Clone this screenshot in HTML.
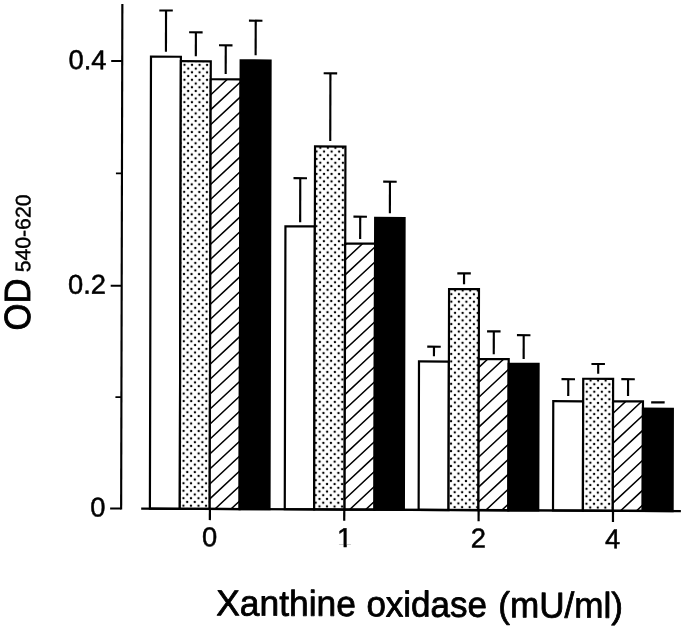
<!DOCTYPE html>
<html lang="en"><head><meta charset="utf-8"><title>Figure</title>
<style>html,body{margin:0;padding:0;background:#fff}svg{display:block}</style></head>
<body>
<svg width="685" height="629" viewBox="0 0 685 629">
<defs>
<pattern id="dots0" patternUnits="userSpaceOnUse" x="180.173" y="62.058" width="7.53" height="7.472"><rect width="7.53" height="7.472" fill="#fff"/><circle cx="3.765" cy="3.736" r="1.2" fill="#000"/><circle cx="0" cy="0" r="1.2" fill="#000"/><circle cx="0" cy="7.472" r="1.2" fill="#000"/><circle cx="7.53" cy="0" r="1.2" fill="#000"/><circle cx="7.53" cy="7.472" r="1.2" fill="#000"/></pattern>
<pattern id="dots1" patternUnits="userSpaceOnUse" x="319.979" y="148.115" width="7.53" height="7.472"><rect width="7.53" height="7.472" fill="#fff"/><circle cx="3.765" cy="3.736" r="1.2" fill="#000"/><circle cx="0" cy="0" r="1.2" fill="#000"/><circle cx="0" cy="7.472" r="1.2" fill="#000"/><circle cx="7.53" cy="0" r="1.2" fill="#000"/><circle cx="7.53" cy="7.472" r="1.2" fill="#000"/></pattern>
<pattern id="dots2" patternUnits="userSpaceOnUse" x="455.120" y="290.193" width="7.53" height="7.472"><rect width="7.53" height="7.472" fill="#fff"/><circle cx="3.765" cy="3.736" r="1.2" fill="#000"/><circle cx="0" cy="0" r="1.2" fill="#000"/><circle cx="0" cy="7.472" r="1.2" fill="#000"/><circle cx="7.53" cy="0" r="1.2" fill="#000"/><circle cx="7.53" cy="7.472" r="1.2" fill="#000"/></pattern>
<pattern id="dots3" patternUnits="userSpaceOnUse" x="583.235" y="379.604" width="7.53" height="7.472"><rect width="7.53" height="7.472" fill="#fff"/><circle cx="3.765" cy="3.736" r="1.2" fill="#000"/><circle cx="0" cy="0" r="1.2" fill="#000"/><circle cx="0" cy="7.472" r="1.2" fill="#000"/><circle cx="7.53" cy="0" r="1.2" fill="#000"/><circle cx="7.53" cy="7.472" r="1.2" fill="#000"/></pattern>
</defs>
<rect width="685" height="629" fill="#fff"/>
<g transform="matrix(1 0.0046 -0.0024 1 0.7200 -1.8400)" stroke="#000" stroke-width="2.2" fill="none" stroke-linecap="butt">
<rect x="150.40" y="57.78" width="29.90" height="452.02" fill="#fff"/>
<path d="M158.60 11.58H172.10" stroke-width="2.15"/>
<path d="M165.35 11.58V52.78" stroke-width="2.15"/>
<rect x="180.30" y="62.24" width="29.90" height="447.56" fill="url(#dots0)"/>
<path d="M188.50 33.24H202.00" stroke-width="2.15"/>
<path d="M195.25 33.24V57.14" stroke-width="2.15"/>
<rect x="210.20" y="80.11" width="29.90" height="429.69" fill="#fff" stroke="none"/>
<clipPath id="hc0"><rect x="210.20" y="80.11" width="29.90" height="429.69"/></clipPath>
<path d="M208.20 52.63L242.10 20.76M208.20 67.60L242.10 35.73M208.20 82.57L242.10 50.70M208.20 97.54L242.10 65.67M208.20 112.51L242.10 80.64M208.20 127.48L242.10 95.61M208.20 142.45L242.10 110.58M208.20 157.42L242.10 125.55M208.20 172.39L242.10 140.52M208.20 187.36L242.10 155.49M208.20 202.33L242.10 170.46M208.20 217.30L242.10 185.43M208.20 232.27L242.10 200.40M208.20 247.24L242.10 215.37M208.20 262.21L242.10 230.34M208.20 277.18L242.10 245.31M208.20 292.15L242.10 260.28M208.20 307.12L242.10 275.25M208.20 322.09L242.10 290.22M208.20 337.06L242.10 305.19M208.20 352.03L242.10 320.16M208.20 367.00L242.10 335.13M208.20 381.97L242.10 350.10M208.20 396.94L242.10 365.07M208.20 411.91L242.10 380.04M208.20 426.88L242.10 395.01M208.20 441.85L242.10 409.98M208.20 456.82L242.10 424.95M208.20 471.79L242.10 439.92M208.20 486.76L242.10 454.89M208.20 501.73L242.10 469.86M208.20 516.70L242.10 484.83M208.20 531.67L242.10 499.80M208.20 546.64L242.10 514.77M208.20 561.61L242.10 529.74" clip-path="url(#hc0)" stroke-width="1.5"/>
<rect x="210.20" y="80.11" width="29.90" height="429.69"/>
<path d="M218.40 46.11H231.90" stroke-width="2.15"/>
<path d="M225.15 46.11V74.71" stroke-width="2.15"/>
<rect x="240.10" y="61.07" width="29.90" height="448.73" fill="#000"/>
<path d="M248.30 21.37H261.80" stroke-width="2.15"/>
<path d="M255.05 21.37V55.97" stroke-width="2.15"/>
<rect x="285.27" y="226.86" width="29.40" height="282.94" fill="#fff"/>
<path d="M293.22 178.66H306.72" stroke-width="2.15"/>
<path d="M299.97 178.66V222.66" stroke-width="2.15"/>
<rect x="314.67" y="146.82" width="30.40" height="362.98" fill="url(#dots1)"/>
<path d="M323.12 73.63H336.62" stroke-width="2.15"/>
<path d="M329.87 73.63V141.32" stroke-width="2.15"/>
<rect x="345.07" y="243.78" width="29.90" height="266.02" fill="#fff" stroke="none"/>
<clipPath id="hc1"><rect x="345.07" y="243.78" width="29.90" height="266.02"/></clipPath>
<path d="M343.07 217.09L376.97 185.23M343.07 232.06L376.97 200.20M343.07 247.03L376.97 215.17M343.07 262.00L376.97 230.14M343.07 276.97L376.97 245.11M343.07 291.94L376.97 260.08M343.07 306.91L376.97 275.05M343.07 321.88L376.97 290.02M343.07 336.85L376.97 304.99M343.07 351.82L376.97 319.96M343.07 366.79L376.97 334.93M343.07 381.76L376.97 349.90M343.07 396.73L376.97 364.87M343.07 411.70L376.97 379.84M343.07 426.67L376.97 394.81M343.07 441.64L376.97 409.78M343.07 456.61L376.97 424.75M343.07 471.58L376.97 439.72M343.07 486.55L376.97 454.69M343.07 501.52L376.97 469.66M343.07 516.49L376.97 484.63M343.07 531.46L376.97 499.60M343.07 546.43L376.97 514.57M343.07 561.40L376.97 529.54" clip-path="url(#hc1)" stroke-width="1.5"/>
<rect x="345.07" y="243.78" width="29.90" height="266.02"/>
<path d="M353.27 216.88H366.77" stroke-width="2.15"/>
<path d="M360.02 216.88V239.18" stroke-width="2.15"/>
<rect x="374.97" y="218.05" width="29.40" height="291.75" fill="#000"/>
<path d="M382.92 181.75H396.42" stroke-width="2.15"/>
<path d="M389.67 181.75V213.25" stroke-width="2.15"/>
<rect x="419.14" y="361.34" width="29.90" height="148.46" fill="#fff"/>
<path d="M427.34 346.54H440.84" stroke-width="2.15"/>
<path d="M434.09 346.54V356.14" stroke-width="2.15"/>
<rect x="449.04" y="288.81" width="29.90" height="220.99" fill="url(#dots2)"/>
<path d="M457.24 273.11H470.74" stroke-width="2.15"/>
<path d="M463.99 273.11V284.01" stroke-width="2.15"/>
<rect x="478.94" y="358.67" width="29.90" height="151.13" fill="#fff" stroke="none"/>
<clipPath id="hc2"><rect x="478.94" y="358.67" width="29.90" height="151.13"/></clipPath>
<path d="M476.94 338.98L510.84 307.11M476.94 353.95L510.84 322.08M476.94 368.92L510.84 337.05M476.94 383.89L510.84 352.02M476.94 398.86L510.84 366.99M476.94 413.83L510.84 381.96M476.94 428.80L510.84 396.93M476.94 443.77L510.84 411.90M476.94 458.74L510.84 426.87M476.94 473.71L510.84 441.84M476.94 488.68L510.84 456.81M476.94 503.65L510.84 471.78M476.94 518.62L510.84 486.75M476.94 533.59L510.84 501.72M476.94 548.56L510.84 516.69M476.94 563.53L510.84 531.66" clip-path="url(#hc2)" stroke-width="1.5"/>
<rect x="478.94" y="358.67" width="29.90" height="151.13"/>
<path d="M487.14 330.97H500.64" stroke-width="2.15"/>
<path d="M493.89 330.97V353.77" stroke-width="2.15"/>
<rect x="508.84" y="363.23" width="29.90" height="146.57" fill="#000"/>
<path d="M517.04 334.63H530.54" stroke-width="2.15"/>
<path d="M523.79 334.63V358.33" stroke-width="2.15"/>
<rect x="553.51" y="400.52" width="29.90" height="109.28" fill="#fff"/>
<path d="M561.71 378.42H575.21" stroke-width="2.15"/>
<path d="M568.46 378.42V395.32" stroke-width="2.15"/>
<rect x="583.41" y="377.89" width="29.90" height="131.91" fill="url(#dots3)"/>
<path d="M591.61 363.09H605.11" stroke-width="2.15"/>
<path d="M598.36 363.09V372.79" stroke-width="2.15"/>
<rect x="613.31" y="400.35" width="29.90" height="109.45" fill="#fff" stroke="none"/>
<clipPath id="hc3"><rect x="613.31" y="400.35" width="29.90" height="109.45"/></clipPath>
<path d="M611.31 384.22L645.21 352.36M611.31 399.19L645.21 367.33M611.31 414.16L645.21 382.30M611.31 429.13L645.21 397.27M611.31 444.10L645.21 412.24M611.31 459.07L645.21 427.21M611.31 474.04L645.21 442.18M611.31 489.01L645.21 457.15M611.31 503.98L645.21 472.12M611.31 518.95L645.21 487.09M611.31 533.92L645.21 502.06M611.31 548.89L645.21 517.03M611.31 563.86L645.21 532.00" clip-path="url(#hc3)" stroke-width="1.5"/>
<rect x="613.31" y="400.35" width="29.90" height="109.45"/>
<path d="M621.51 378.15H635.01" stroke-width="2.15"/>
<path d="M628.26 378.15V395.05" stroke-width="2.15"/>
<rect x="643.21" y="407.61" width="29.90" height="102.19" fill="#000"/>
<path d="M651.41 401.21H664.91" stroke-width="2.15"/>
<path d="M141.7 509.8H681.4" stroke-width="2.4"/>
<path d="M210.40 509.8V521.0"/>
<path d="M344.77 509.8V521.0"/>
<path d="M479.14 509.8V521.0"/>
<path d="M613.51 509.8V521.0"/>
<path d="M121.65 5.3V510.90" stroke-width="2.15"/>
<path d="M121.65 509.80H110.65" stroke-width="2"/>
<path d="M121.65 287.00H110.65" stroke-width="2"/>
<path d="M121.65 62.40H110.65" stroke-width="2"/>
<path d="M121.65 398.40H115.65" stroke-width="1.8"/>
<path d="M121.65 174.70H115.65" stroke-width="1.8"/>
<g stroke="#000" stroke-width="0.5" stroke-linejoin="round" fill="#000" font-family="'Liberation Sans', Arial, Helvetica, sans-serif">
<text x="106.0" y="518.00" font-size="27.3" text-anchor="end">0</text>
<text x="106.0" y="295.20" font-size="27.3" text-anchor="end">0.2</text>
<text x="106.0" y="70.60" font-size="27.3" text-anchor="end">0.4</text>
<clipPath id="one"><rect x="330" y="518" width="30" height="27.0"/><rect x="344.2" y="518" width="3.1" height="34"/></clipPath>
<text x="210.10" y="547.2" font-size="27.3" text-anchor="middle">0</text>
<text x="345.27" y="547.2" font-size="27.3" text-anchor="middle" clip-path="url(#one)">1</text>
<text x="478.84" y="547.2" font-size="27.3" text-anchor="middle">2</text>
<text x="613.21" y="547.2" font-size="27.3" text-anchor="middle">4</text>
<g stroke-width="0.8" font-size="36">
<text x="217.0" y="616.2" textLength="139.6" lengthAdjust="spacingAndGlyphs">Xanthine</text>
<text x="367.15" y="616.5" textLength="120.6" lengthAdjust="spacingAndGlyphs">oxidase</text>
<text x="499.05" y="616.8" textLength="124.7" lengthAdjust="spacingAndGlyphs">(mU/ml)</text>
</g>
<text transform="translate(30.1 332.2) rotate(-90) scale(0.95 1)" font-size="36.5" stroke-width="0.9">OD</text>
<text transform="translate(30.2 274.0) rotate(-90)" font-size="21.2" stroke-width="0.4">540-620</text>
</g>
</g>
</svg>
</body></html>
